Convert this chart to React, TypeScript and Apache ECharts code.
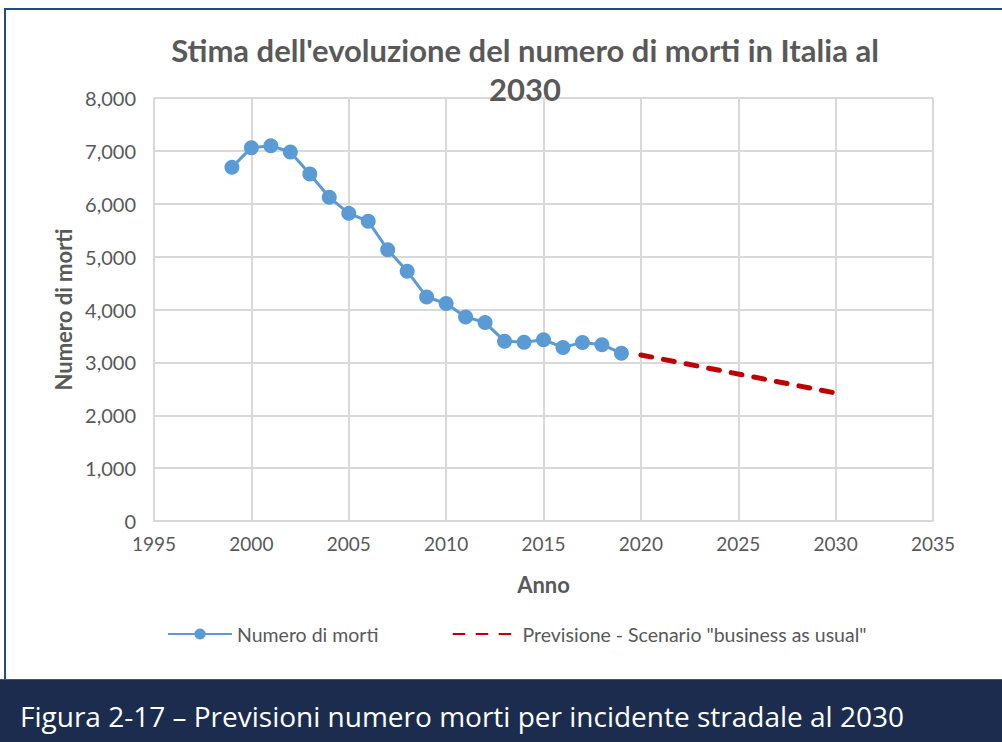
import React, { useEffect, useRef } from "react";
import * as echarts from "echarts";

const years = [1999, 2000, 2001, 2002, 2003, 2004, 2005, 2006, 2007, 2008, 2009, 2010, 2011, 2012, 2013, 2014, 2015, 2016, 2017, 2018, 2019];
const deaths = [6688, 7061, 7096, 6980, 6563, 6122, 5818, 5669, 5131, 4725, 4237, 4114, 3860, 3753, 3401, 3381, 3428, 3283, 3378, 3334, 3173];
const forecastYears = [2020, 2030];
const forecastValues = [3140, 2420];

const titleText = "Stima dell'evoluzione del numero di morti in Italia al\n2030";
const seriesNames = ["Numero di morti", 'Previsione - Scenario "business as usual"'];
const xName = "Anno";
const yName = "Numero di morti";
const captionText = "Figura 2-17 \u2013 Previsioni numero morti per incidente stradale al 2030";

export default function App() {
  const ref = useRef<HTMLDivElement>(null);
  useEffect(() => {
    if (!ref.current) return;
    const chart = echarts.init(ref.current, null, { renderer: "svg" });
    const font = "Lato";
    const grey = "#595959";
    const gridColor = "#D9D9D9";
    chart.setOption({
      animation: false,
      backgroundColor: "#ffffff",
      title: {
        text: titleText,
        left: 525,
        textAlign: "center",
        top: 30,
        padding: 0,
        textStyle: { fontFamily: font, fontWeight: "bold", fontSize: 31, color: grey, lineHeight: 39 },
      },
      grid: { left: 154, right: 69, top: 98, bottom: 221 },
      legend: {
        left: 162,
        top: 619,
        itemWidth: 64,
        itemHeight: 14,
        itemGap: 74,
        textStyle: { fontFamily: font, fontSize: 19.5, color: grey },
        data: [
          { name: seriesNames[0] },
          { name: seriesNames[1], itemStyle: { opacity: 0 } },
        ],
      },
      xAxis: {
        type: "value",
        min: 1995,
        max: 2035,
        interval: 5,
        name: xName,
        nameLocation: "middle",
        nameGap: 52,
        nameTextStyle: { fontFamily: font, fontWeight: "bold", fontSize: 22, color: grey },
        axisLine: { show: true, lineStyle: { color: gridColor, width: 2 } },
        axisTick: { show: false },
        axisLabel: { fontFamily: font, fontSize: 19, color: grey, margin: 13, formatter: (v: number) => String(v) },
        splitLine: { show: true, lineStyle: { color: gridColor, width: 2 } },
      },
      yAxis: {
        type: "value",
        min: 0,
        max: 8000,
        interval: 1000,
        name: yName,
        nameLocation: "middle",
        nameGap: 76,
        nameRotate: 90,
        nameTextStyle: { fontFamily: font, fontWeight: "bold", fontSize: 22, color: grey },
        axisLine: { show: true, lineStyle: { color: gridColor, width: 2 } },
        axisTick: { show: false },
        axisLabel: { fontFamily: font, fontSize: 20, color: grey, margin: 18 },
        splitLine: { show: true, lineStyle: { color: gridColor, width: 2 } },
      },
      series: [
        {
          name: seriesNames[0],
          type: "line",
          data: years.map((y, i) => [y, deaths[i]]),
          symbol: "circle",
          symbolSize: 15,
          itemStyle: { color: "#5B9BD5" },
          lineStyle: { color: "#5B9BD5", width: 3 },
        },
        {
          name: seriesNames[1],
          type: "line",
          data: forecastYears.map((y, i) => [y, forecastValues[i]]),
          symbol: "none",
          itemStyle: { color: "#C00000" },
          lineStyle: { color: "#C00000", width: 5, type: [11, 12], cap: "round" },
        },
      ],
      graphic: [
        {
          type: "polyline",
          shape: { points: [[5, 742], [5, 9], [1010, 9]] },
          style: { stroke: "#1F4E79", lineWidth: 2, fill: "none" },
          z: 100,
        },
        {
          type: "rect",
          shape: { x: 0, y: 679, width: 1002, height: 63 },
          style: { fill: "#1B2C4E" },
          z: 101,
        },
        {
          type: "line",
          shape: { x1: 0, y1: 679.5, x2: 1002, y2: 679.5 },
          style: { stroke: "#2F5A8A", lineWidth: 1 },
          z: 102,
        },
        {
          type: "text",
          x: 20,
          y: 716,
          style: { text: captionText, fill: "#ffffff", fontFamily: "Open Sans", fontSize: 28, verticalAlign: "middle", align: "left" },
          z: 103,
        },
      ],
    });
    return () => chart.dispose();
  }, []);
  return <div ref={ref} style={{ position: "fixed", left: 0, top: 0, width: 1002, height: 742 }} />;
}
